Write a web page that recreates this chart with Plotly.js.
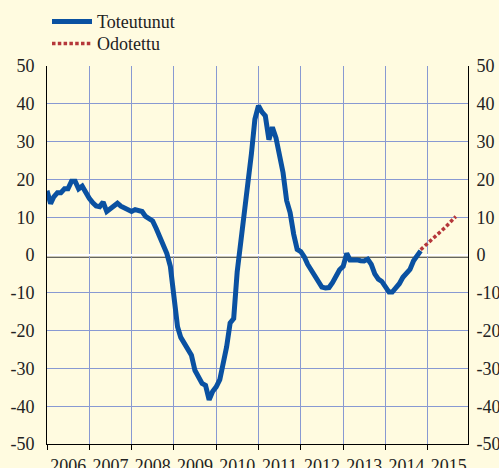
<!DOCTYPE html>
<html>
<head>
<meta charset="utf-8">
<script src="https://cdn.plot.ly/plotly-3.0.1.min.js"></script>
</head>
<body style="margin:0;background:#fffbe0">
<div id="chart" style="width:499px;height:468px"></div>
<script>
// Monthly series, first value = January 2006
var startYear = 2006;
var toteutunut = [
  17.0, 13.6, 15.4, 16.5, 16.5, 17.5, 17.5, 19.5, 19.5, 17.5, 18.2, 16.5,
  15.0, 13.8, 13.0, 12.8, 14.0, 11.5, 12.3, 13.2, 13.7, 12.9, 12.5, 12.1,
  11.5, 12.0, 11.9, 11.5, 10.2, 9.7, 9.0, 7.0, 4.5, 2.4, 0.4, -3.0,
  -11.5, -19.0, -21.8, -23.3, -24.9, -26.5, -30.5, -32.3, -34.0, -34.5, -38.3, -36.1,
  -34.9, -33.0, -29.2, -24.3, -18.0, -16.8, -4.5, 2.9, 11.4, 18.6, 26.8, 35.9,
  39.5, 37.8, 36.8, 30.5, 33.8, 31.0, 27.0, 21.8, 14.4, 11.2, 5.5, 1.5,
  0.9, -0.5, -2.5, -4.0, -5.2, -7.2, -8.5, -8.7, -8.6, -7.3, -5.2, -3.9,
  -3.0, 0.4, -1.3, -1.2, -1.3, -1.5, -1.6, -1.1, -2.5, -5.0, -6.4, -7.0,
  -8.5, -9.8, -9.8, -8.7, -7.6, -5.9, -4.8, -3.8, -1.5, -0.4, 1.1
];
// Expected path: month offsets from January 2006 and values
var odotettuMonth = [106, 110, 113, 116];
var odotettu = [1.4, 4.6, 7.3, 10.2];
var yTicks = [-50, -40, -30, -20, -10, 0, 10, 20, 30, 40, 50];

function monthDate(m) {
  var y = startYear + Math.floor(m / 12);
  var mo = (m % 12) + 1;
  return y + '-' + (mo < 10 ? '0' : '') + mo + '-01';
}
var xT = toteutunut.map(function (_, i) { return monthDate(i); });
var xO = odotettuMonth.map(monthDate);

var bg = '#fffbe0';
var grid = '#8899d2';
var txt = '#222222';
var fam = 'Liberation Serif';

var traces = [
  { x: xT, y: toteutunut, type: 'scatter', mode: 'lines', name: 'Toteutunut',
    legend: 'legend', line: { color: '#0a51a1', width: 5 } },
  { x: xO, y: odotettu, type: 'scatter', mode: 'lines', name: 'Odotettu', yaxis: 'y2',
    legend: 'legend2', line: { color: '#b5373a', width: 3.5, dash: '3.5px,2.3px' } }
];

var layout = {
  width: 499, height: 468,
  margin: { l: 47, r: 31, t: 66, b: 24, pad: 0, autoexpand: false },
  paper_bgcolor: bg, plot_bgcolor: bg,
  showlegend: true,
  legend: { x: 0.0, y: 1.166, xanchor: 'left', yanchor: 'top', bgcolor: 'rgba(0,0,0,0)',
    font: { family: fam, size: 18, color: txt }, itemwidth: 40 },
  legend2: { x: 0.0, y: 1.108, xanchor: 'left', yanchor: 'top', bgcolor: 'rgba(0,0,0,0)',
    font: { family: fam, size: 18, color: txt }, itemwidth: 40 },
  xaxis: {
    type: 'date', range: ['2006-01-01', '2015-12-15'],
    tick0: '2006-01-01', dtick: 'M12', tickformat: '%Y', ticklabelmode: 'period',
    showgrid: true, gridcolor: grid, gridwidth: 1,
    showline: true, linecolor: '#000', linewidth: 1,
    ticks: 'outside', ticklen: 5, tickcolor: '#000', tickwidth: 1,
    tickfont: { family: fam, size: 18, color: txt },
    zeroline: false
  },
  yaxis: {
    range: [-50, 50], tickvals: yTicks, ticktext: yTicks.map(String),
    showgrid: true, gridcolor: grid, gridwidth: 1,
    showline: true, linecolor: '#000', linewidth: 1,
    ticks: '', ticklabelstandoff: 8,
    zeroline: true, zerolinecolor: '#ffffff', zerolinewidth: 2.5,
    tickfont: { family: fam, size: 18, color: txt }
  },
  yaxis2: {
    range: [-50, 50], tickvals: yTicks, ticktext: yTicks.map(String),
    overlaying: 'y', side: 'right', anchor: 'x',
    showgrid: false, zeroline: false,
    showline: true, linecolor: '#000', linewidth: 1, ticks: '', ticklabelstandoff: 4,
    tickfont: { family: fam, size: 18, color: txt }
  },
  shapes: [
    { type: 'line', xref: 'paper', yref: 'y', x0: 0, x1: 1, y0: -0.6, y1: -0.6,
      line: { color: '#333', width: 1.2 }, layer: 'below' }
  ]
};

Plotly.newPlot('chart', traces, layout, { staticPlot: true });
</script>
</body>
</html>
